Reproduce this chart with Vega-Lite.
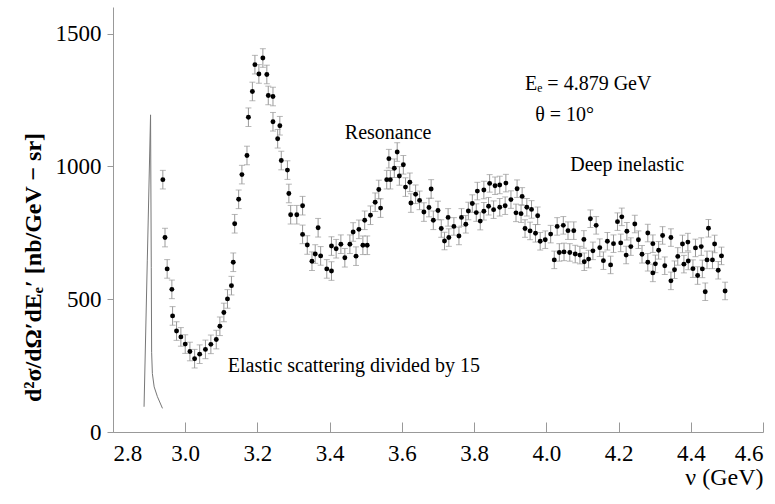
{
  "$schema": "https://vega.github.io/schema/vega-lite/v6.json",
  "width": 650,
  "height": 425,
  "autosize": "none",
  "padding": {"left": 113, "top": 7, "right": 12, "bottom": 72},
  "background": "white",
  "config": {
    "view": {"stroke": null},
    "axis": {"grid": false, "domainColor": "#999", "tickColor": "#999", "labelColor": "black", "labelFont": "'Liberation Serif', serif", "labelFontSize": 23, "titleFont": "'Liberation Serif', serif", "titleColor": "black", "titleFontWeight": "normal"}
  },
  "datasets": {
    "elastic": [
      {"x": 2.886, "y": 95}, {"x": 2.895, "y": 647}, {"x": 2.904, "y": 1194}, {"x": 2.906, "y": 620}, {"x": 2.907, "y": 300},
      {"x": 2.909, "y": 220}, {"x": 2.914, "y": 170}, {"x": 2.923, "y": 133}, {"x": 2.937, "y": 89}
    ],
    "pts": [
      {"x": 2.938, "y": 950, "err": 35}, {"x": 2.944, "y": 732, "err": 35}, {"x": 2.950, "y": 614, "err": 35}, {"x": 2.963, "y": 537, "err": 35},
      {"x": 2.965, "y": 437, "err": 35}, {"x": 2.976, "y": 380, "err": 35}, {"x": 2.988, "y": 358, "err": 35}, {"x": 3.000, "y": 331, "err": 35},
      {"x": 3.013, "y": 303, "err": 35}, {"x": 3.026, "y": 276, "err": 35}, {"x": 3.040, "y": 293, "err": 35}, {"x": 3.056, "y": 311, "err": 35},
      {"x": 3.071, "y": 330, "err": 35}, {"x": 3.086, "y": 348, "err": 35}, {"x": 3.096, "y": 398, "err": 35}, {"x": 3.107, "y": 450, "err": 35},
      {"x": 3.117, "y": 501, "err": 35}, {"x": 3.128, "y": 551, "err": 35}, {"x": 3.133, "y": 639, "err": 35}, {"x": 3.137, "y": 784, "err": 35},
      {"x": 3.148, "y": 876, "err": 35}, {"x": 3.157, "y": 969, "err": 35}, {"x": 3.171, "y": 1041, "err": 35}, {"x": 3.175, "y": 1185, "err": 35},
      {"x": 3.186, "y": 1282, "err": 35}, {"x": 3.193, "y": 1383, "err": 35}, {"x": 3.204, "y": 1348, "err": 35}, {"x": 3.215, "y": 1408, "err": 35},
      {"x": 3.226, "y": 1346, "err": 35}, {"x": 3.230, "y": 1267, "err": 35}, {"x": 3.243, "y": 1263, "err": 35}, {"x": 3.243, "y": 1168, "err": 35},
      {"x": 3.256, "y": 1104, "err": 35}, {"x": 3.262, "y": 1153, "err": 35}, {"x": 3.266, "y": 1022, "err": 35}, {"x": 3.283, "y": 986, "err": 35},
      {"x": 3.287, "y": 898, "err": 35}, {"x": 3.292, "y": 818, "err": 35}, {"x": 3.309, "y": 818, "err": 35}, {"x": 3.325, "y": 852, "err": 35},
      {"x": 3.325, "y": 744, "err": 35}, {"x": 3.338, "y": 704, "err": 35}, {"x": 3.351, "y": 643, "err": 35}, {"x": 3.360, "y": 670, "err": 35},
      {"x": 3.368, "y": 769, "err": 35}, {"x": 3.375, "y": 663, "err": 35}, {"x": 3.392, "y": 614, "err": 35}, {"x": 3.405, "y": 606, "err": 35},
      {"x": 3.405, "y": 700, "err": 35}, {"x": 3.418, "y": 690, "err": 35}, {"x": 3.431, "y": 707, "err": 35}, {"x": 3.442, "y": 656, "err": 35},
      {"x": 3.456, "y": 707, "err": 35}, {"x": 3.465, "y": 753, "err": 35}, {"x": 3.473, "y": 662, "err": 35}, {"x": 3.481, "y": 763, "err": 35},
      {"x": 3.492, "y": 703, "err": 35}, {"x": 3.504, "y": 703, "err": 35}, {"x": 3.497, "y": 797, "err": 35}, {"x": 3.513, "y": 816, "err": 35},
      {"x": 3.526, "y": 865, "err": 35}, {"x": 3.536, "y": 913, "err": 35}, {"x": 3.541, "y": 843, "err": 35}, {"x": 3.558, "y": 950, "err": 35},
      {"x": 3.568, "y": 950, "err": 35}, {"x": 3.564, "y": 1029, "err": 35}, {"x": 3.579, "y": 993, "err": 35}, {"x": 3.587, "y": 1054, "err": 35},
      {"x": 3.593, "y": 964, "err": 35}, {"x": 3.604, "y": 1006, "err": 35}, {"x": 3.610, "y": 922, "err": 35}, {"x": 3.622, "y": 940, "err": 35},
      {"x": 3.625, "y": 862, "err": 35}, {"x": 3.638, "y": 895, "err": 35}, {"x": 3.649, "y": 872, "err": 35}, {"x": 3.661, "y": 828, "err": 35},
      {"x": 3.675, "y": 845, "err": 35}, {"x": 3.681, "y": 915, "err": 35}, {"x": 3.687, "y": 797, "err": 35}, {"x": 3.700, "y": 834, "err": 35},
      {"x": 3.709, "y": 766, "err": 33}, {"x": 3.718, "y": 719, "err": 33}, {"x": 3.730, "y": 732, "err": 33}, {"x": 3.728, "y": 808, "err": 33},
      {"x": 3.744, "y": 774, "err": 33}, {"x": 3.758, "y": 738, "err": 33}, {"x": 3.765, "y": 808, "err": 33}, {"x": 3.777, "y": 782, "err": 33},
      {"x": 3.784, "y": 832, "err": 33}, {"x": 3.795, "y": 860, "err": 33}, {"x": 3.806, "y": 826, "err": 33}, {"x": 3.809, "y": 907, "err": 33},
      {"x": 3.817, "y": 794, "err": 33}, {"x": 3.827, "y": 911, "err": 33}, {"x": 3.827, "y": 831, "err": 33}, {"x": 3.840, "y": 850, "err": 33},
      {"x": 3.843, "y": 936, "err": 33}, {"x": 3.854, "y": 837, "err": 33}, {"x": 3.858, "y": 927, "err": 33}, {"x": 3.871, "y": 846, "err": 33},
      {"x": 3.871, "y": 930, "err": 33}, {"x": 3.886, "y": 852, "err": 33}, {"x": 3.888, "y": 937, "err": 33}, {"x": 3.902, "y": 875, "err": 33},
      {"x": 3.916, "y": 825, "err": 33}, {"x": 3.919, "y": 916, "err": 33}, {"x": 3.930, "y": 822, "err": 33}, {"x": 3.933, "y": 887, "err": 33},
      {"x": 3.941, "y": 766, "err": 33}, {"x": 3.946, "y": 846, "err": 33}, {"x": 3.955, "y": 757, "err": 33}, {"x": 3.959, "y": 838, "err": 33},
      {"x": 3.970, "y": 748, "err": 33}, {"x": 3.976, "y": 814, "err": 33}, {"x": 3.983, "y": 718, "err": 33}, {"x": 3.997, "y": 724, "err": 33},
      {"x": 4.012, "y": 745, "err": 33}, {"x": 4.022, "y": 648, "err": 33}, {"x": 4.030, "y": 774, "err": 33}, {"x": 4.036, "y": 676, "err": 33},
      {"x": 4.047, "y": 778, "err": 33}, {"x": 4.049, "y": 678, "err": 33}, {"x": 4.060, "y": 758, "err": 33}, {"x": 4.065, "y": 676, "err": 33},
      {"x": 4.076, "y": 758, "err": 33}, {"x": 4.080, "y": 670, "err": 33}, {"x": 4.093, "y": 666, "err": 33}, {"x": 4.104, "y": 725, "err": 33},
      {"x": 4.105, "y": 641, "err": 33}, {"x": 4.117, "y": 651, "err": 33}, {"x": 4.122, "y": 803, "err": 33}, {"x": 4.129, "y": 682, "err": 33},
      {"x": 4.138, "y": 778, "err": 33}, {"x": 4.148, "y": 694, "err": 33}, {"x": 4.158, "y": 645, "err": 33}, {"x": 4.169, "y": 718, "err": 33},
      {"x": 4.178, "y": 629, "err": 33}, {"x": 4.186, "y": 709, "err": 33}, {"x": 4.197, "y": 792, "err": 33}, {"x": 4.206, "y": 712, "err": 33},
      {"x": 4.209, "y": 810, "err": 33}, {"x": 4.223, "y": 756, "err": 33}, {"x": 4.221, "y": 666, "err": 33}, {"x": 4.234, "y": 698, "err": 33},
      {"x": 4.245, "y": 783, "err": 33}, {"x": 4.255, "y": 724, "err": 33}, {"x": 4.265, "y": 669, "err": 33}, {"x": 4.281, "y": 749, "err": 33},
      {"x": 4.281, "y": 639, "err": 33}, {"x": 4.295, "y": 709, "err": 33}, {"x": 4.295, "y": 599, "err": 33}, {"x": 4.302, "y": 633, "err": 33},
      {"x": 4.311, "y": 684, "err": 33}, {"x": 4.322, "y": 740, "err": 33}, {"x": 4.328, "y": 626, "err": 33}, {"x": 4.345, "y": 732, "err": 33},
      {"x": 4.345, "y": 569, "err": 33}, {"x": 4.355, "y": 611, "err": 33}, {"x": 4.364, "y": 661, "err": 33}, {"x": 4.377, "y": 708, "err": 33},
      {"x": 4.381, "y": 632, "err": 33}, {"x": 4.392, "y": 715, "err": 33}, {"x": 4.393, "y": 644, "err": 33}, {"x": 4.406, "y": 615, "err": 33},
      {"x": 4.413, "y": 693, "err": 33}, {"x": 4.419, "y": 589, "err": 33}, {"x": 4.429, "y": 698, "err": 33}, {"x": 4.432, "y": 614, "err": 33},
      {"x": 4.440, "y": 528, "err": 33}, {"x": 4.445, "y": 648, "err": 33}, {"x": 4.449, "y": 767, "err": 33}, {"x": 4.460, "y": 648, "err": 33},
      {"x": 4.466, "y": 708, "err": 33}, {"x": 4.476, "y": 609, "err": 33}, {"x": 4.485, "y": 663, "err": 33}, {"x": 4.495, "y": 531, "err": 33}
    ],
    "labelsCenter": [
      {"x": 3.562, "y": 1103, "label": "Resonance"},
      {"x": 4.224, "y": 984, "label": "Deep inelastic"}
    ],
    "labelsLeft": [
      {"x": 3.941, "y": 1288, "label": "Eₑ = 4.879 GeV"},
      {"x": 3.969, "y": 1171, "label": "θ = 10°"},
      {"x": 3.118, "y": 226, "label": "Elastic scattering divided by 15"}
    ]
  },
  "encoding": {
    "x": {"field": "x", "type": "quantitative", "scale": {"domain": [2.8, 4.6], "nice": false, "zero": false},
      "axis": {"values": [2.8, 3.0, 3.2, 3.4, 3.6, 3.8, 4.0, 4.2, 4.4, 4.6], "format": ".1f", "tickSize": -10, "labelPadding": 20,
        "title": "ν (GeV)", "titleFontSize": 24, "titleAnchor": "end", "titlePadding": 0}},
    "y": {"field": "y", "type": "quantitative", "scale": {"domain": [0, 1600], "nice": false},
      "axis": {"values": [0, 500, 1000, 1500], "format": "d", "tickSize": 6, "labelPadding": 6,
        "title": "d²σ/dΩ′dEₑ′ [nb/GeV − sr]", "titleFontSize": 24, "titleFontWeight": "bold", "titleY": 260, "titleX": -68}}
  },
  "layer": [
    {
      "data": {"name": "elastic"},
      "mark": {"type": "line", "color": "#777", "strokeWidth": 1}
    },
    {
      "data": {"name": "pts"},
      "mark": {"type": "errorbar", "color": "#999", "thickness": 1, "ticks": {"size": 6, "color": "#999"}},
      "encoding": {
        "yError": {"field": "err"}
      }
    },
    {
      "data": {"name": "pts"},
      "mark": {"type": "point", "filled": true, "color": "black", "size": 24, "opacity": 1}
    },
    {
      "data": {"name": "labelsCenter"},
      "mark": {"type": "text", "align": "center", "baseline": "alphabetic", "fontSize": 20, "font": "Liberation Serif", "color": "black"},
      "encoding": {
        "text": {"field": "label"}
      }
    },
    {
      "data": {"name": "labelsLeft"},
      "mark": {"type": "text", "align": "left", "baseline": "alphabetic", "fontSize": 20, "font": "Liberation Serif", "color": "black"},
      "encoding": {
        "text": {"field": "label"}
      }
    }
  ]
}
